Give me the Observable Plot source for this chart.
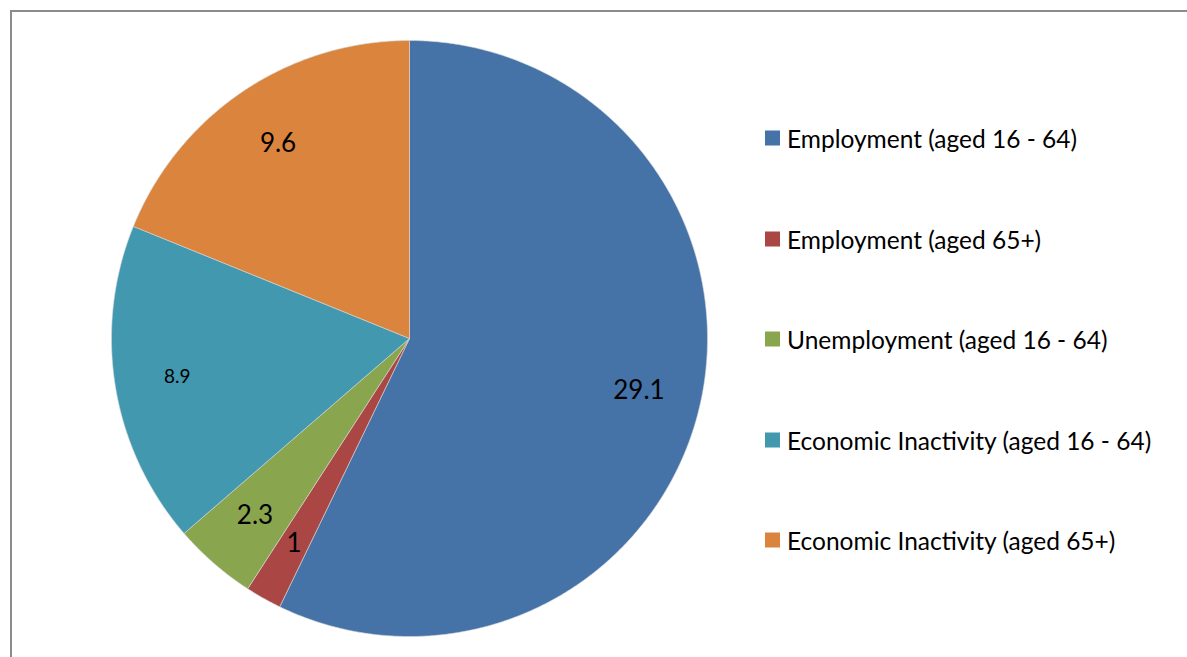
<!DOCTYPE html>
<html>
<head>
<meta charset="utf-8">
<script src="https://cdn.jsdelivr.net/npm/d3@7"></script>
<script src="https://cdn.jsdelivr.net/npm/@observablehq/plot@0.6"></script>
<style>
  html, body { margin: 0; padding: 0; background: #fff; overflow: hidden; }
  #wrap { position: relative; width: 1187px; height: 657px; }
  #frame { position: absolute; left: 10px; top: 10px; right: -10px; bottom: -10px;
           border-left: 2px solid #8c8c8c; border-top: 2px solid #8c8c8c; }
  #chart { position: absolute; left: 0; top: 0; }
  #legend { position: absolute; left: 765px; top: 0; font-family: Lato, "Open Sans", sans-serif;
            font-size: 24.5px; color: #000; }
  .item { position: absolute; display: flex; align-items: center; white-space: nowrap; transform: translateY(-50%); }
  .sw { width: 15px; height: 15px; margin-right: 7px; flex: none; }
</style>
</head>
<body>
<div id="wrap">
  <div id="frame"></div>
  <div id="chart"></div>
  <div id="legend"></div>
</div>
<script>
const categories = [
  "Employment (aged 16 - 64)",
  "Employment (aged 65+)",
  "Unemployment (aged 16 - 64)",
  "Economic Inactivity (aged 16 - 64)",
  "Economic Inactivity (aged 65+)"
];
const values = [29.1, 1, 2.3, 8.9, 9.6];
const colors = ["#4572A7", "#AA4643", "#89A54E", "#4198AF", "#DB843D"];

const data = categories.map((name, i) => ({name, value: values[i]}));
const arcs = d3.pie().sort(null).value(d => d.value)(data);

// polygon vertices for each slice (unit radius, angle clockwise from 12 o'clock)
const poly = [];
for (const a of arcs) {
  poly.push({name: a.data.name, x: 0, y: 0});
  const n = Math.max(2, Math.ceil((a.endAngle - a.startAngle) / (Math.PI / 360)));
  for (let k = 0; k <= n; k++) {
    const t = a.startAngle + (a.endAngle - a.startAngle) * k / n;
    poly.push({name: a.data.name, x: Math.sin(t), y: Math.cos(t)});
  }
  poly.push({name: a.data.name, x: 0, y: 0});
}
const labels = arcs.map(a => {
  const m = (a.startAngle + a.endAngle) / 2;
  const r = 0.79;
  return {name: a.data.name, value: a.data.value, x: r * Math.sin(m), y: r * Math.cos(m)};
});

const chart = Plot.plot({
  width: 1187,
  height: 657,
  marginLeft: 111,
  marginRight: 480,
  marginTop: 40,
  marginBottom: 21,
  x: {domain: [-1, 1], axis: null},
  y: {domain: [-1, 1], axis: null},
  color: {domain: categories, range: colors},
  style: {background: "transparent", overflow: "visible"},
  marks: [
    Plot.line(poly, {x: "x", y: "y", z: "name", fill: "name", stroke: "#d8d8d8", strokeWidth: 0.6, curve: "linear"}),
    Plot.text(labels, {x: "x", y: "y", text: d => String(d.value),
      fontSize: d => d.name === categories[3] ? 19 : 26,
      fontFamily: "Lato, 'Open Sans', sans-serif", fill: "#000"})
  ]
});
document.getElementById("chart").appendChild(chart);

const legend = document.getElementById("legend");
categories.forEach((c, i) => {
  const item = document.createElement("div");
  item.className = "item";
  item.style.top = (138 + i * 100.5) + "px";
  const sw = document.createElement("span");
  sw.className = "sw";
  sw.style.background = colors[i];
  const tx = document.createElement("span");
  tx.textContent = c;
  item.appendChild(sw);
  item.appendChild(tx);
  legend.appendChild(item);
});
</script>
</body>
</html>
